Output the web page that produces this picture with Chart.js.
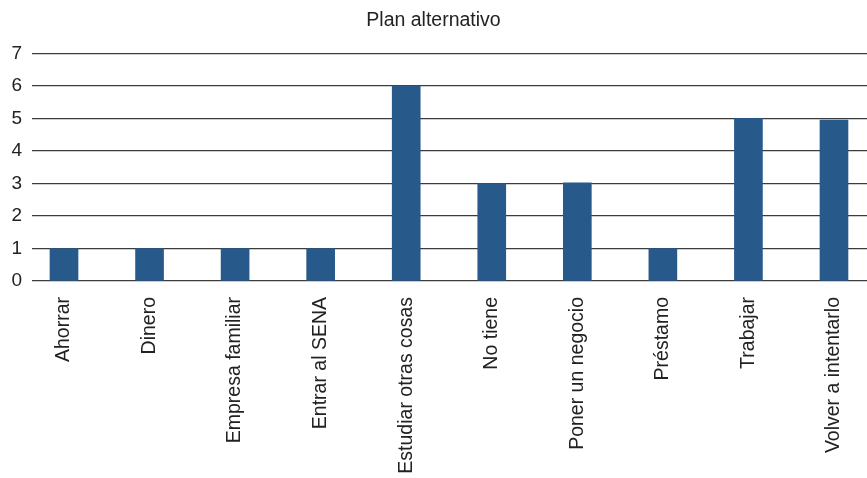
<!DOCTYPE html>
<html>
<head>
<meta charset="utf-8">
<script src="https://cdn.jsdelivr.net/npm/chart.js@4.4.1/dist/chart.umd.min.js"></script>
<style>
  html, body { margin: 0; padding: 0; background: #fff; overflow: hidden; }
  #wrap { width: 867px; height: 478px; }
</style>
</head>
<body>
<div id="wrap"><canvas id="planChart" width="867" height="478"></canvas></div>
<script>
'use strict';

const categories = [
    'Ahorrar', 'Dinero', 'Empresa familiar', 'Entrar al SENA', 'Estudiar otras cosas',
    'No tiene', 'Poner un negocio', 'Préstamo', 'Trabajar', 'Volver a intentarlo'
];
const counts = [1, 1, 1, 1, 6, 3, 3.02, 1, 5, 4.95];
const yTicks = [0, 1, 2, 3, 4, 5, 6, 7];

const barColor = '#27598a';
const gridColor = '#3c3c3c';
const fontFamily = '"Liberation Sans", Arial, sans-serif';

const points = counts.map((v, i) => ({ x: i, y: v }));

const ctx = document.getElementById('planChart');
new Chart(ctx, {
    type: 'bar',
    data: {
        datasets: [{
            label: 'Plan alternativo',
            data: points,
            backgroundColor: barColor,
            borderWidth: 0,
            barThickness: 28
        }]
    },
    options: {
        responsive: false,
        animation: false,
        layout: { padding: { left: 0, right: 0, top: 0, bottom: 0 } },
        plugins: {
            legend: { display: false },
            tooltip: { enabled: false },
            title: {
                display: true,
                text: 'Plan alternativo',
                color: '#222',
                font: { family: fontFamily, size: 19.5, weight: 'normal' },
                padding: { top: 9, bottom: 21 }
            }
        },
        scales: {
            x: {
                type: 'linear',
                offset: false,
                min: -0.374,
                max: 9.386,
                grid: { display: false, drawTicks: false },
                border: { display: false },
                ticks: {
                    stepSize: 1,
                    includeBounds: false,
                    autoSkip: false,
                    minRotation: 90,
                    maxRotation: 90,
                    padding: 16,
                    color: '#222',
                    font: { family: fontFamily, size: 19.5 },
                    callback: function(value) {
                        return categories[value] !== undefined ? categories[value] : '';
                    }
                },
                afterFit: function(scale) {
                    scale.height = 197;
                    scale.paddingLeft = 0;
                    scale.paddingRight = 0;
                }
            },
            y: {
                min: 0,
                max: 7,
                afterBuildTicks: function(scale) {
                    scale.ticks = yTicks.map(v => ({ value: v }));
                },
                grid: { color: gridColor, lineWidth: 1.3, drawTicks: false },
                border: { display: false },
                ticks: {
                    padding: 10,
                    color: '#222',
                    font: { family: fontFamily, size: 19 }
                },
                afterFit: function(scale) { scale.width = 32; }
            }
        }
    }
});
</script>
</body>
</html>
